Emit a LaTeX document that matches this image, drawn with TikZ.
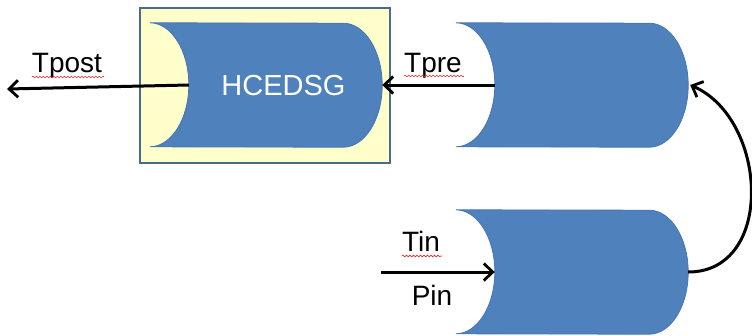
\documentclass[tikz,border=0pt]{standalone}
\usepackage{fontspec}
\setmainfont{Liberation Sans}
\usetikzlibrary{arrows.meta,decorations.pathmorphing}
\definecolor{cylblue}{HTML}{4F81BD}
\definecolor{cyledge}{HTML}{4576B2}
\definecolor{boxfill}{HTML}{FFFFCC}
\definecolor{boxedge}{HTML}{4A6A8E}
\definecolor{wavyred}{HTML}{E03030}
\tikzset{
  cylbody/.style={rectangle, inner sep=0pt, minimum width=193pt, minimum height=124pt},
  cylfill/.style={fill=cylblue, draw=cyledge, line width=0.8pt},
  flow/.style={line width=3pt, -{Straight Barb[length=9pt,width=17pt,line width=2.8pt]}},
  lbl/.style={font=\fontsize{28}{30}\selectfont, inner sep=0pt, anchor=base},
  wavy/.style={draw=wavyred, line width=0.6pt, decorate, decoration={snake, amplitude=0.9pt, segment length=3.5pt}},
}
\newcommand\cylpath[1]{%
  \path[cylfill] (#1.north west) arc[start angle=90, end angle=-90, x radius=39pt, y radius=62pt]
    -- (#1.south east) arc[start angle=-90, end angle=90, x radius=39pt, y radius=62pt] -- cycle;
  \coordinate (#1-in) at ([xshift=39pt]#1.west);
  \coordinate (#1-out) at ([xshift=39pt]#1.east);
}
\begin{document}
\begin{tikzpicture}[x=1pt,y=-1pt]
\useasboundingbox (0,0) rectangle (752,335);
% yellow frame
\node[draw=boxedge, fill=boxfill, line width=1.8pt, minimum width=250pt, minimum height=155pt, inner sep=0pt] (box) at (265,85.5) {};
% cylinders
\node[cylbody] (h) at (246.5,85) {};
\node[cylbody] (t) at (552.5,85) {};
\node[cylbody] (b) at (552.5,272) {};
\cylpath{h}
\cylpath{t}
\cylpath{b}
\node[font=\fontsize{29}{30}\selectfont, text=white, inner sep=0pt] (hlabel) at ([xshift=37pt,yshift=-1pt]h.center) {HCEDSG};
% free ends
\coordinate (postend) at (7,89);
\coordinate (inend) at (381,272);
% connectors
\draw[flow] (h-in) -- (postend);
\draw[flow] (t-in) -- (h-out);
\draw[flow] (inend) -- (b-in);
\draw[flow] (b-out) .. controls ([xshift=87pt]b-out) and ([xshift=80pt,yshift=-34pt]t-out) .. ([xshift=2pt]t-out);
% labels
\node[lbl] (tpost) at (67,72) {Tpost};
\node[lbl] (tpre) at (433,72) {Tpre};
\node[lbl] (tin) at (421,251) {Tin};
\node[lbl] (pin) at (432,305) {Pin};
% spell-check underlines
\draw[wavy] ([yshift=-5pt]tpost.base west) -- ([yshift=-5pt,xshift=2pt]tpost.base east);
\draw[wavy] ([yshift=-4pt]tpre.base west) -- ([yshift=-4pt,xshift=2pt]tpre.base east);
\draw[wavy] ([yshift=-5pt]tin.base west) -- ([yshift=-5pt,xshift=2pt]tin.base east);
\end{tikzpicture}
\end{document}
